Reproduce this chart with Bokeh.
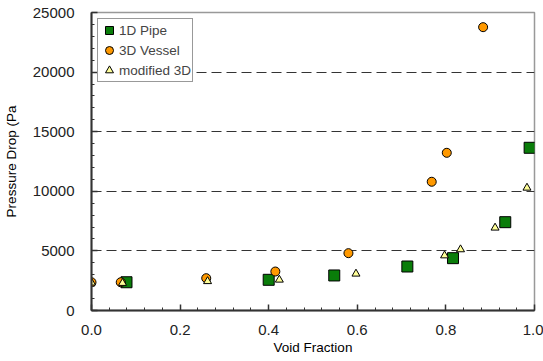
from bokeh.plotting import figure
from bokeh.models import FixedTicker, Range1d, Legend, LegendItem, CustomJSTickFormatter
from bokeh.embed import file_html
from bokeh.resources import INLINE

pipe_x = [0.079, 0.40, 0.548, 0.713, 0.816, 0.934, 0.989]
pipe_y = [2370, 2575, 2940, 3690, 4390, 7410, 13650]

vessel_x = [0.0, 0.066, 0.259, 0.415, 0.58, 0.768, 0.802, 0.884]
vessel_y = [2370, 2370, 2710, 3270, 4810, 10800, 13230, 23770]

mod_x = [0.0, 0.070, 0.262, 0.424, 0.597, 0.797, 0.833, 0.911, 0.983]
mod_y = [2330, 2300, 2450, 2575, 3080, 4610, 5120, 6940, 10290]

x_ticks = [0.0, 0.2, 0.4, 0.6, 0.8, 1.0]
y_ticks = [0, 5000, 10000, 15000, 20000, 25000]
x_minor = [i * 0.04 for i in range(26)]
y_minor = [i * 1000 for i in range(26)]

FONT = "Liberation Sans"

p = figure(width=543, height=361, output_backend="svg", toolbar_location=None,
           x_range=Range1d(0, 1.0), y_range=Range1d(0, 25000),
           min_border_left=90, min_border_right=9, min_border_top=12, min_border_bottom=51)

p.xgrid.visible = False
p.ygrid.ticker = FixedTicker(ticks=[5000, 10000, 15000, 20000, 25000])
p.ygrid.grid_line_color = "#333333"
p.ygrid.grid_line_dash = "10 5"
p.ygrid.grid_line_width = 1

p.outline_line_color = "#999999"
p.outline_line_width = 1.5

for ax in (p.xaxis[0], p.yaxis[0]):
    ax.axis_line_width = 2
    ax.axis_line_color = "#333333"
    ax.major_tick_in = 6
    ax.major_tick_out = 0
    ax.minor_tick_in = 3
    ax.minor_tick_out = 0
    ax.major_tick_line_color = "#333333"
    ax.minor_tick_line_color = "#333333"
    ax.major_tick_line_width = 1.5
    ax.minor_tick_line_width = 1
    ax.major_label_text_font = FONT
    ax.major_label_text_font_size = "15px"
    ax.major_label_text_color = "#222222"
    ax.axis_label_text_font = FONT
    ax.axis_label_text_font_size = "13.5px"
    ax.axis_label_text_font_style = "normal"
    ax.axis_label_text_color = "black"

p.xaxis[0].ticker = FixedTicker(ticks=x_ticks, minor_ticks=x_minor)
p.yaxis[0].ticker = FixedTicker(ticks=y_ticks, minor_ticks=y_minor)
p.xaxis[0].formatter = CustomJSTickFormatter(code="return tick.toFixed(1);")
p.xaxis[0].axis_label = "Void Fraction"
p.yaxis[0].axis_label = "Pressure Drop (Pa"
p.xaxis[0].major_label_standoff = 14
p.yaxis[0].major_label_standoff = 17
p.xaxis[0].axis_label_standoff = 2
p.yaxis[0].axis_label_standoff = 11

r1 = p.scatter(pipe_x, pipe_y, marker="square", size=11, fill_color="#0a7d0a",
               line_color="black", line_width=1)
r2 = p.scatter(vessel_x, vessel_y, marker="circle", size=9, fill_color="#ff9900",
               line_color="black", line_width=1)
r3 = p.scatter(mod_x, mod_y, marker="triangle", size=8, fill_color="#ffff99",
               line_color="black", line_width=1)

legend = Legend(items=[LegendItem(label="1D Pipe", renderers=[r1]),
                       LegendItem(label="3D Vessel", renderers=[r2]),
                       LegendItem(label="modified 3D", renderers=[r3])],
                location="top_left")
legend.margin = 6
legend.padding = 1
legend.spacing = 0
legend.label_text_font = FONT
legend.label_text_font_size = "13.5px"
legend.label_height = 20
legend.glyph_height = 20
legend.glyph_width = 20
legend.label_standoff = 0
legend.border_line_color = "#333333"
legend.border_line_width = 1
legend.background_fill_alpha = 1
p.add_layout(legend)

open("out.html", "w").write(file_html(p, INLINE))
